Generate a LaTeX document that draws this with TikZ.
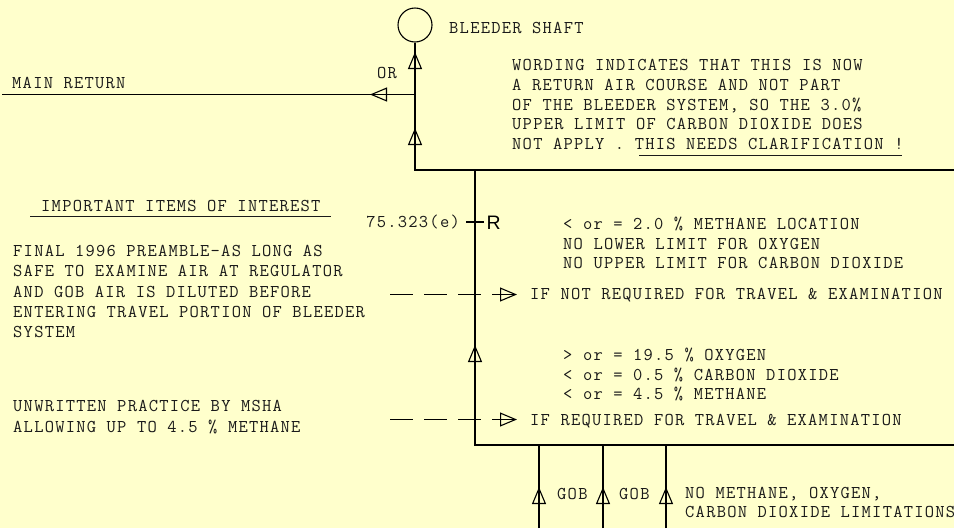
\documentclass[tikz,border=0pt]{standalone}
\usepackage{fontspec}
\setmonofont{Latin Modern Mono}[LetterSpace=7.0]
\newfontfamily\rfont{Liberation Sans}
\usetikzlibrary{arrows.meta}
\definecolor{bg}{HTML}{FFFFCC}
\definecolor{ink}{HTML}{1A1A1A}
\begin{document}
\begin{tikzpicture}[x=1pt,y=-1pt,
  txt/.style={font=\ttfamily\fontsize{18}{20}\selectfont, text=ink, inner sep=0pt, anchor=west, text height=11pt, text depth=0pt},
  ln/.style={line width=1.1pt, black},
  tip/.style={ln, -{Triangle[open, length=17pt, width=14pt]}},
  dsh/.style={ln, dash pattern=on 23pt off 11pt}]
\fill[bg] (0,0) rectangle (954,528);
\useasboundingbox (0,0) rectangle (954,528);

% shaft and return branch
\node[circle, draw, ln, minimum size=34pt, inner sep=0pt] (shaft) at (415,25) {};
\node[txt] (bs) at (449,28) {BLEEDER SHAFT};
\coordinate (jn) at (415,170);
\coordinate (tr) at (954,170);
\coordinate (br) at (415,94.5);
\coordinate (mr) at (2,94.5);
\draw[ln] (shaft.south) -- (jn) -- (tr);
\draw[ln] (br) -- (mr);
\draw[tip] (415,69) -- (415,52);
\draw[tip] (415,145) -- (415,128);
\draw[tip] (388,94.5) -- (370,94.5);
\node[txt] (mrt) at (12,83) {MAIN RETURN};
\node[txt, anchor=center] (or) at (387,73) {OR};

% wording paragraph
\foreach \t [count=\i] in {WORDING INDICATES THAT THIS IS NOW,
  A RETURN AIR COURSE AND NOT PART,
  {OF THE BLEEDER SYSTEM, SO THE 3.0\%},
  UPPER LIMIT OF CARBON DIOXIDE DOES,
  NOT APPLY . THIS NEEDS CLARIFICATION !}
  \node[txt] (w\i) at (512,{65+19.75*(\i-1)}) {\t};
\draw[line width=0.9pt, ink] (639,155) -- (902,155);

% box
\coordinate (bx) at (475,170);
\coordinate (bl) at (475,445);
\coordinate (bc) at (954,445);
\draw[ln] (bx) -- (bl) -- (bc);
\draw[tip] (475,362) -- (475,345);

% regulator
\node[txt, anchor=east] (reg) at (460,222) {75.323(e)};
\coordinate (tka) at (466,222);
\coordinate (tkb) at (484,222);
\draw[ln] (tka) -- (tkb);
\node[font=\rfont\fontsize{19.5}{22}\selectfont, inner sep=0pt, anchor=west, text height=14pt, text depth=0pt] (R) at (486.5,222) {R};

% box text 1
\foreach \t [count=\i] in {< or = 2.0 \% METHANE LOCATION,
  NO LOWER LIMIT FOR OXYGEN,
  NO UPPER LIMIT FOR CARBON DIOXIDE}
  \node[txt] (a\i) at (563,{224+19.7*(\i-1)}) {\t};
\node[txt] (nreq) at (530,294) {IF NOT REQUIRED FOR TRAVEL \& EXAMINATION};
\coordinate (d1s) at (390,294.5);
\coordinate (d1e) at (517,294.5);
\draw[dsh] (d1s) -- (d1e);
\draw[tip] (499,294.5) -- (d1e);

% box text 2
\foreach \t [count=\i] in {> or = 19.5 \% OXYGEN,
  < or = 0.5 \% CARBON DIOXIDE,
  < or = 4.5 \% METHANE}
  \node[txt] (b\i) at (563,{355+19.6*(\i-1)}) {\t};
\node[txt] (req) at (530,420) {IF REQUIRED FOR TRAVEL \& EXAMINATION};
\coordinate (d2s) at (390,419.5);
\coordinate (d2e) at (517,419.5);
\draw[dsh] (d2s) -- (d2e);
\draw[tip] (499,419.5) -- (d2e);

% left notes
\node[txt] (imp) at (41,206) {IMPORTANT ITEMS OF INTEREST};
\draw[line width=0.9pt, ink] (30,216) -- (331,216);
\foreach \t [count=\i] in {FINAL 1996 PREAMBLE-AS LONG AS,
  SAFE TO EXAMINE AIR AT REGULATOR,
  AND GOB AIR IS DILUTED BEFORE,
  ENTERING TRAVEL PORTION OF BLEEDER,
  SYSTEM}
  \node[txt] (f\i) at (13,{251+20.3*(\i-1)}) {\t};
\node[txt] (u1) at (13,406) {UNWRITTEN PRACTICE BY MSHA};
\node[txt] (u2) at (13,427) {ALLOWING UP TO 4.5 \% METHANE};

% gob entries
\foreach \x [count=\i] in {539,603,666} {
  \coordinate (g\i t) at (\x,445);
  \coordinate (g\i b) at (\x,528);
  \draw[ln] (g\i b) -- (g\i t);
  \draw[tip] (\x,504) -- (\x,487);
}
\node[txt] (gob1) at (557,494) {GOB};
\node[txt] (gob2) at (619,494) {GOB};
\node[txt] (nm1) at (685,493) {NO METHANE, OXYGEN,};
\node[txt] (nm2) at (685,512) {CARBON DIOXIDE LIMITATIONS};
\end{tikzpicture}
\end{document}
